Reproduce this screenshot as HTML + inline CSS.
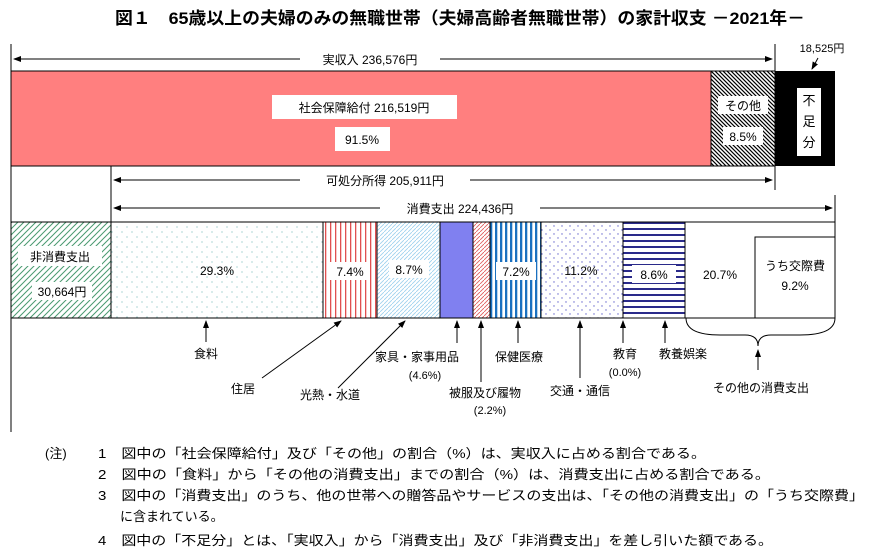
<!DOCTYPE html>
<html><head><meta charset="utf-8"><style>
body{margin:0;background:#fff;}
svg{display:block;font-family:"Liberation Sans","Noto Sans CJK JP",sans-serif;}
</style></head><body>
<svg width="870" height="554" viewBox="0 0 870 554" xmlns="http://www.w3.org/2000/svg">
<defs>
<pattern id="hatch" width="4" height="4" patternUnits="userSpaceOnUse"><rect width="4" height="4" fill="#fff"/><path d="M0,0 L4,4 M-1,3 L1,5 M3,-1 L5,1" stroke="#000" stroke-width="1.2"/></pattern>
<pattern id="green" width="6" height="6" patternUnits="userSpaceOnUse"><rect width="6" height="6" fill="#fff"/><path d="M0,6 L6,0 M-1,1 L1,-1 M5,7 L7,5" stroke="#4a9a70" stroke-width="1"/></pattern>
<pattern id="dots" width="10" height="10" patternUnits="userSpaceOnUse"><rect width="10" height="10" fill="#fff"/><circle cx="2" cy="2" r="0.6" fill="#7bb"/><circle cx="7" cy="7" r="0.6" fill="#7bb"/></pattern>
<pattern id="redv" width="5" height="5" patternUnits="userSpaceOnUse"><rect width="5" height="5" fill="#fff"/><rect x="0" width="1.3" height="5" fill="#e05050"/></pattern>
<pattern id="bluediag" width="4" height="4" patternUnits="userSpaceOnUse"><rect width="4" height="4" fill="#fff"/><path d="M0,4 L4,0" stroke="#9cd0ee" stroke-width="0.8"/></pattern>
<pattern id="reddiag" width="4" height="4" patternUnits="userSpaceOnUse"><rect width="4" height="4" fill="#fff"/><path d="M0,4 L4,0" stroke="#e06060" stroke-width="0.9"/></pattern>
<pattern id="bluev" width="5" height="5" patternUnits="userSpaceOnUse"><rect width="5" height="5" fill="#fff"/><rect x="0" width="2.3" height="5" fill="#1a70c0"/></pattern>
<pattern id="pdots" width="8" height="8" patternUnits="userSpaceOnUse"><rect width="8" height="8" fill="#fff"/><circle cx="2" cy="2" r="0.7" fill="#66c"/><circle cx="6" cy="6" r="0.7" fill="#66c"/></pattern>
<pattern id="navyh" width="6" height="6" patternUnits="userSpaceOnUse"><rect width="6" height="6" fill="#fff"/><rect y="0" width="6" height="2" fill="#2a2a8a"/></pattern>
<marker id="ar" markerWidth="8" markerHeight="6" refX="7" refY="3" orient="auto"><path d="M0,0 L8,3 L0,6 Z" fill="#000"/></marker>
</defs>
<text x="460" y="24" text-anchor="middle" font-size="17" font-weight="bold" textLength="690" lengthAdjust="spacingAndGlyphs">図１　65歳以上の夫婦のみの無職世帯（夫婦高齢者無職世帯）の家計収支 －2021年－</text>
<g stroke="#000" stroke-width="1">
<line x1="11" y1="44" x2="11" y2="432"/>
<line x1="775" y1="44" x2="775" y2="190"/>
<line x1="111" y1="166" x2="111" y2="222"/>
<line x1="835" y1="195" x2="835" y2="222"/>
</g>
<g stroke="#000" stroke-width="1" fill="none">
<line x1="300" y1="59" x2="14" y2="59" marker-end="url(#ar)"/>
<line x1="440" y1="59" x2="772" y2="59" marker-end="url(#ar)"/>
<line x1="300" y1="180" x2="114" y2="180" marker-end="url(#ar)"/>
<line x1="470" y1="180" x2="772" y2="180" marker-end="url(#ar)"/>
<line x1="380" y1="208" x2="114" y2="208" marker-end="url(#ar)"/>
<line x1="540" y1="208" x2="832" y2="208" marker-end="url(#ar)"/>
<line x1="818" y1="58" x2="812" y2="69" marker-end="url(#ar)"/>
</g>
<text x="370" y="64" text-anchor="middle" font-size="12">実収入  236,576円</text>
<text x="385" y="185" text-anchor="middle" font-size="12">可処分所得  205,911円</text>
<text x="460" y="213" text-anchor="middle" font-size="12">消費支出  224,436円</text>
<text x="822" y="52" text-anchor="middle" font-size="11">18,525円</text>
<rect x="11" y="71" width="700" height="95" fill="#ff7f7f" stroke="#000"/>
<rect x="711" y="71" width="64" height="95" fill="url(#hatch)" stroke="#000"/>
<rect x="775" y="71" width="60" height="95" fill="#000"/>
<rect x="272" y="95" width="185" height="24" fill="#fff"/>
<text x="364" y="112" text-anchor="middle" font-size="12">社会保障給付  216,519円</text>
<rect x="335" y="127" width="55" height="24" fill="#fff"/>
<text x="362" y="144" text-anchor="middle" font-size="12">91.5%</text>
<rect x="718" y="96" width="50" height="18" fill="#fff"/><text x="743" y="110" text-anchor="middle" font-size="12">その他</text>
<rect x="723" y="127" width="40" height="18" fill="#fff"/><text x="743" y="141" text-anchor="middle" font-size="12">8.5%</text>
<rect x="797" y="88" width="24" height="68" fill="#fff"/>
<text x="809" y="105" text-anchor="middle" font-size="13">不</text>
<text x="809" y="126" text-anchor="middle" font-size="13">足</text>
<text x="809" y="147" text-anchor="middle" font-size="13">分</text>
<g stroke="#000" stroke-width="1">
<rect x="11" y="222" width="100" height="96" fill="url(#green)"/>
<rect x="111" y="222" width="212" height="96" fill="url(#dots)"/>
<rect x="323" y="222" width="54" height="96" fill="url(#redv)"/>
<rect x="377" y="222" width="63" height="96" fill="url(#bluediag)"/>
<rect x="440" y="222" width="33" height="96" fill="#8080f0"/>
<rect x="473" y="222" width="17" height="96" fill="url(#reddiag)"/>
<rect x="490" y="222" width="51" height="96" fill="url(#bluev)"/>
<rect x="541" y="222" width="82" height="96" fill="url(#pdots)"/>
<rect x="623" y="222" width="62" height="96" fill="url(#navyh)"/>
<rect x="685" y="222" width="150" height="96" fill="#fff"/>
<rect x="755" y="237" width="80" height="81" fill="#fff"/>
</g>
<rect x="18" y="246" width="84" height="20" fill="#fff"/><text x="60" y="261" text-anchor="middle" font-size="12">非消費支出</text>
<rect x="32" y="282" width="60" height="18" fill="#fff"/><text x="62" y="296" text-anchor="middle" font-size="12">30,664円</text>
<text x="217" y="275" text-anchor="middle" font-size="12">29.3%</text>
<rect x="330" y="262" width="40" height="18" fill="#fff"/><text x="350" y="276" text-anchor="middle" font-size="12">7.4%</text>
<rect x="389" y="260" width="40" height="18" fill="#fff"/><text x="409" y="274" text-anchor="middle" font-size="12">8.7%</text>
<rect x="496" y="262" width="40" height="18" fill="#fff"/><text x="516" y="276" text-anchor="middle" font-size="12">7.2%</text>
<text x="581" y="275" text-anchor="middle" font-size="12">11.2%</text>
<rect x="632" y="265" width="44" height="18" fill="#fff"/><text x="654" y="279" text-anchor="middle" font-size="12">8.6%</text>
<text x="720" y="279" text-anchor="middle" font-size="12">20.7%</text>
<text x="795" y="270" text-anchor="middle" font-size="12">うち交際費</text>
<text x="795" y="290" text-anchor="middle" font-size="12">9.2%</text>
<g stroke="#000" stroke-width="1" fill="none">
<line x1="206" y1="342" x2="206" y2="321" marker-end="url(#ar)"/>
<line x1="262" y1="378" x2="341" y2="321" marker-end="url(#ar)"/>
<line x1="338" y1="388" x2="405" y2="321" marker-end="url(#ar)"/>
<line x1="457" y1="343" x2="457" y2="321" marker-end="url(#ar)"/>
<line x1="481" y1="382" x2="481" y2="321" marker-end="url(#ar)"/>
<line x1="518" y1="343" x2="518" y2="321" marker-end="url(#ar)"/>
<line x1="580" y1="378" x2="580" y2="321" marker-end="url(#ar)"/>
<line x1="623" y1="343" x2="623" y2="321" marker-end="url(#ar)"/>
<line x1="665" y1="343" x2="665" y2="321" marker-end="url(#ar)"/>
<line x1="758" y1="370" x2="758" y2="350" marker-end="url(#ar)"/>
<path d="M686,318 Q686,335 720,335 L745,335 Q758,335 758,346 Q758,335 771,335 L800,335 Q835,335 835,318"/>
</g>
<g font-size="12" text-anchor="middle">
<text x="206" y="358">食料</text>
<text x="243" y="393">住居</text>
<text x="330" y="399">光熱・水道</text>
<text x="417" y="361">家具・家事用品</text>
<text x="425" y="379" font-size="11">(4.6%)</text>
<text x="485" y="397">被服及び履物</text>
<text x="490" y="414" font-size="11">(2.2%)</text>
<text x="519" y="361">保健医療</text>
<text x="580" y="395">交通・通信</text>
<text x="625" y="358">教育</text>
<text x="625" y="376" font-size="11">(0.0%)</text>
<text x="683" y="358">教養娯楽</text>
<text x="761" y="392">その他の消費支出</text>
</g>
<g font-size="13">
<text x="45" y="458">(注)</text>
<text x="98" y="458" textLength="608" lengthAdjust="spacingAndGlyphs">1　図中の「社会保障給付」及び「その他」の割合（%）は、実収入に占める割合である。</text>
<text x="98" y="479" textLength="672" lengthAdjust="spacingAndGlyphs">2　図中の「食料」から「その他の消費支出」までの割合（%）は、消費支出に占める割合である。</text>
<text x="98" y="500" textLength="766" lengthAdjust="spacingAndGlyphs">3　図中の「消費支出」のうち、他の世帯への贈答品やサービスの支出は、「その他の消費支出」の「うち交際費」</text>
<text x="120" y="521">に含まれている。</text>
<text x="98" y="545" textLength="675" lengthAdjust="spacingAndGlyphs">4　図中の「不足分」とは、「実収入」から「消費支出」及び「非消費支出」を差し引いた額である。</text>
</g>
</svg>
</body></html>
